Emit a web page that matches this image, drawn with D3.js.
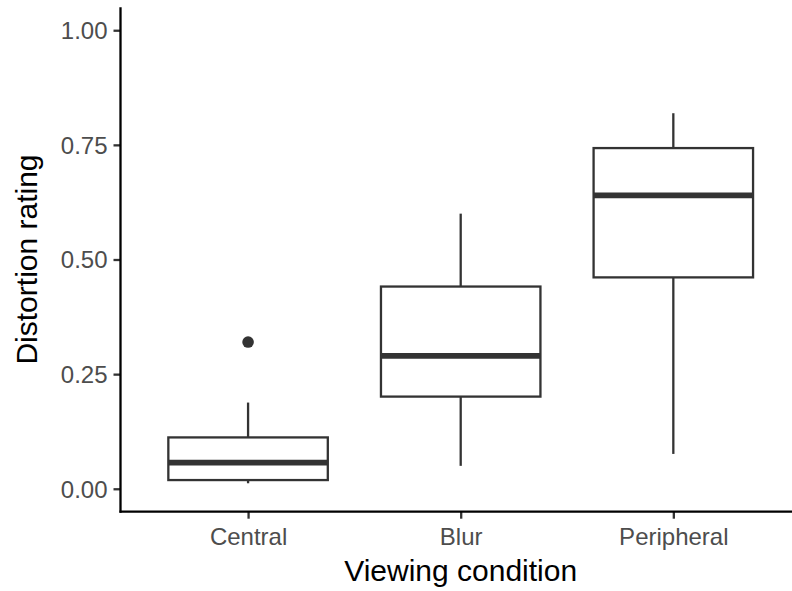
<!DOCTYPE html>
<html>
<head>
<meta charset="utf-8">
<script src="https://cdn.jsdelivr.net/npm/d3@7"></script>
<style>
  html, body { margin: 0; padding: 0; background: #fff; }
  svg { display: block; font-family: "Liberation Sans", Arial, Helvetica, sans-serif; }
</style>
</head>
<body>
<svg id="chart" width="792" height="591"></svg>
<script>
// Data
const categories = ["Central", "Blur", "Peripheral"];
const whiskerLow  = [0.012, 0.050, 0.076];
const q1          = [0.019, 0.201, 0.461];
const median      = [0.057, 0.290, 0.640];
const q3          = [0.112, 0.441, 0.743];
const whiskerHigh = [0.188, 0.600, 0.819];
const outliers    = [[0.320], [], []];
const yTicks      = [0.00, 0.25, 0.50, 0.75, 1.00];
const xTitle = "Viewing condition";
const yTitle = "Distortion rating";

const svg = d3.select("#chart");
const pLeft = 120.5, pRight = 800.9, pTop = 7.3, pBottom = 511.7;

const x = d3.scalePoint().domain(categories).range([pLeft, pRight]).padding(0.6);
const y = d3.scaleLinear().domain([-0.05, 1.05]).range([pBottom, pTop]);
const boxW = x.step() * 0.75;

const stroke = "#333333";
const lw = 2.3;

const boxes = categories.map((c, i) => ({
  c, lo: whiskerLow[i], q1: q1[i], med: median[i], q3: q3[i], hi: whiskerHigh[i], out: outliers[i]
}));

const g = svg.append("g");
const bg = g.selectAll("g.box").data(boxes).enter().append("g").attr("class", "box");

// whiskers
bg.append("line")
  .attr("x1", d => x(d.c)).attr("x2", d => x(d.c))
  .attr("y1", d => y(d.q3)).attr("y2", d => y(d.hi))
  .attr("stroke", stroke).attr("stroke-width", lw);
bg.append("line")
  .attr("x1", d => x(d.c)).attr("x2", d => x(d.c))
  .attr("y1", d => y(d.q1)).attr("y2", d => y(d.lo))
  .attr("stroke", stroke).attr("stroke-width", lw);
// box
bg.append("rect")
  .attr("x", d => x(d.c) - boxW / 2).attr("width", boxW)
  .attr("y", d => y(d.q3)).attr("height", d => y(d.q1) - y(d.q3))
  .attr("fill", "#ffffff").attr("stroke", stroke).attr("stroke-width", lw);
// median
bg.append("line")
  .attr("x1", d => x(d.c) - boxW / 2).attr("x2", d => x(d.c) + boxW / 2)
  .attr("y1", d => y(d.med)).attr("y2", d => y(d.med))
  .attr("stroke", stroke).attr("stroke-width", 5.8);
// outliers
bg.selectAll("circle").data(d => d.out.map(v => ({ c: d.c, v }))).enter().append("circle")
  .attr("cx", d => x(d.c)).attr("cy", d => y(d.v)).attr("r", 5.8)
  .attr("fill", stroke);

// axes
const yAxis = d3.axisLeft(y).tickValues(yTicks).tickFormat(d3.format(".2f")).tickSize(7).tickPadding(6);
const ya = svg.append("g").attr("transform", `translate(${pLeft},0)`).call(yAxis);
const xAxis = d3.axisBottom(x).tickSize(7).tickPadding(8);
const xa = svg.append("g").attr("transform", `translate(0,${pBottom})`).call(xAxis);

[ya, xa].forEach(a => {
  a.select(".domain").remove();
  a.selectAll(".tick line").attr("stroke", "#333333").attr("stroke-width", lw);
  a.selectAll(".tick text").attr("fill", "#4d4d4d").style("font-size", "24px")
    .style("font-family", "'Liberation Sans', Arial, Helvetica, sans-serif");
});
ya.selectAll(".tick text").attr("dy", "0.35em");
xa.selectAll(".tick text").attr("dy", "0.75em");

// axis lines
svg.append("line").attr("x1", pLeft).attr("x2", pLeft).attr("y1", pTop).attr("y2", pBottom + 1)
  .attr("stroke", "#000").attr("stroke-width", 2.3);
svg.append("line").attr("x1", pLeft - 1).attr("x2", pRight).attr("y1", pBottom).attr("y2", pBottom)
  .attr("stroke", "#000").attr("stroke-width", 2.3);

// titles
svg.append("text")
  .attr("x", (pLeft + pRight) / 2).attr("y", 581)
  .attr("text-anchor", "middle").attr("fill", "#000")
  .style("font-size", "30px").text(xTitle);
svg.append("text")
  .attr("transform", `translate(37,${(pTop + pBottom) / 2}) rotate(-90)`)
  .attr("text-anchor", "middle").attr("fill", "#000")
  .style("font-size", "30px").text(yTitle);
</script>
</body>
</html>
